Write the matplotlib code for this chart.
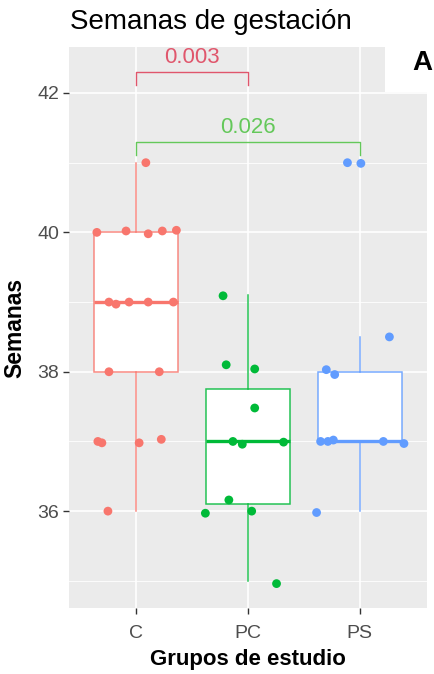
import numpy as np
import matplotlib
matplotlib.use("Agg")
import matplotlib.pyplot as plt
from matplotlib.colors import to_rgba
from matplotlib.ticker import MultipleLocator

plt.rcParams['font.family'] = ['Liberation Sans', 'DejaVu Sans']

groups = ["C", "PC", "PS"]
colors = ["#F8766D", "#00BA38", "#619CFF"]

# valores (semanas) y desplazamiento del jitter
c_vals = [41.0, 40.0, 40.02, 39.98, 40.02, 40.03, 39.0, 38.97, 39.0, 39.0, 39.0,
          38.0, 38.0, 37.0, 36.98, 36.98, 37.03, 36.0]
c_jit = [0.087, -0.351, -0.09, 0.108, 0.234, 0.36, -0.243, -0.18, -0.063, 0.108, 0.333,
         -0.243, 0.207, -0.342, -0.306, 0.027, 0.225, -0.252]
pc_vals = [39.09, 38.1, 38.04, 37.48, 37.0, 36.96, 36.99, 36.16, 35.97, 36.0, 34.96]
pc_jit = [-0.223, -0.195, 0.06, 0.06, -0.135, -0.051, 0.318, -0.171, -0.381, 0.033, 0.255]
ps_vals = [41.0, 40.99, 38.5, 38.03, 37.96, 37.0, 37.0, 37.02, 37.0, 36.97, 35.98]
ps_jit = [-0.111, 0.009, 0.264, -0.3, -0.225, -0.351, -0.286, -0.237, 0.21, 0.394, -0.387]

# estadisticos de las cajas
q1 = [38.0, 36.1, 37.0]
med = [39.0, 37.0, 37.0]
q3 = [40.0, 37.75, 38.0]
whislo = [36.0, 35.0, 36.0]
whishi = [41.0, 39.1, 38.5]

# comparaciones
pairs = [(1, 2), (1, 3)]
pvals = ["0.003", "0.026"]
p_y = [42.3, 41.3]
p_colors = ["#E0566C", "#64C85A"]


def main():
    fig = plt.figure(figsize=(4.35, 6.74), dpi=100)
    ax = fig.add_axes([69/435, 66/674, 358/435, 561/674])
    ax.set_facecolor("#EBEBEB")

    stats = []
    for i in range(3):
        stats.append(dict(q1=q1[i], med=med[i], q3=q3[i], whislo=whislo[i],
                          whishi=whishi[i], fliers=[]))
    for i in range(3):
        edge = to_rgba(colors[i], 0.85)
        ax.bxp([stats[i]], positions=[i + 1], widths=0.75, patch_artist=True,
               showcaps=False,
               boxprops=dict(facecolor="white", edgecolor=edge, linewidth=1.1),
               whiskerprops=dict(color=edge, linewidth=1.1),
               medianprops=dict(color=colors[i], linewidth=2.4, solid_capstyle="butt"),
               zorder=2)

    vals = [c_vals, pc_vals, ps_vals]
    jits = [c_jit, pc_jit, ps_jit]
    for i in range(3):
        x = i + 1 + np.array(jits[i])
        ax.scatter(x, vals[i], s=40, color=colors[i], edgecolors="none", zorder=3)

    for (a, b), p, y, col in zip(pairs, pvals, p_y, p_colors):
        ax.plot([a, a, b, b], [y - 0.19, y, y, y - 0.19], color=col, lw=1.0, zorder=4)
        ax.text((a + b) / 2, y + 0.06, p, color=col, ha="center", va="bottom",
                fontsize=16)

    ax.set_xlim(0.4, 3.6)
    ax.set_ylim(34.61, 42.66)
    ax.set_xticks([1, 2, 3])
    ax.set_xticklabels(groups)
    ax.yaxis.set_major_locator(MultipleLocator(2))
    ax.yaxis.set_minor_locator(MultipleLocator(1))
    ax.grid(which="major", color="white", lw=1.2)
    ax.grid(which="minor", axis="y", color="white", lw=0.6)
    ax.set_axisbelow(True)
    for s in ax.spines.values():
        s.set_visible(False)
    ax.tick_params(which="major", length=4, color="#333333", width=1,
                   labelsize=14, labelcolor="#4D4D4D", pad=3)
    ax.tick_params(axis="x", which="major", pad=8)
    ax.tick_params(which="minor", length=0)

    ax.set_xlabel("Grupos de estudio", fontsize=16, fontweight="bold", labelpad=5)
    ax.set_ylabel("Semanas", fontsize=16.5, fontweight="bold", labelpad=8)

    fig.text(70/435, 1 - 29/674, "Semanas de gestación", fontsize=20,
             ha="left", va="baseline")

    # etiqueta del panel
    fig.patches.append(plt.Rectangle((385/435, 1 - 92/674), 50/435, 92/674,
                                     transform=fig.transFigure, facecolor="white",
                                     edgecolor="none", zorder=5))
    fig.text(422/435, 1 - 63/674, "A", fontsize=20, fontweight="bold",
             ha="center", va="center", zorder=6)

    fig.savefig("out.png", dpi=100)


if __name__ == "__main__":
    main()
